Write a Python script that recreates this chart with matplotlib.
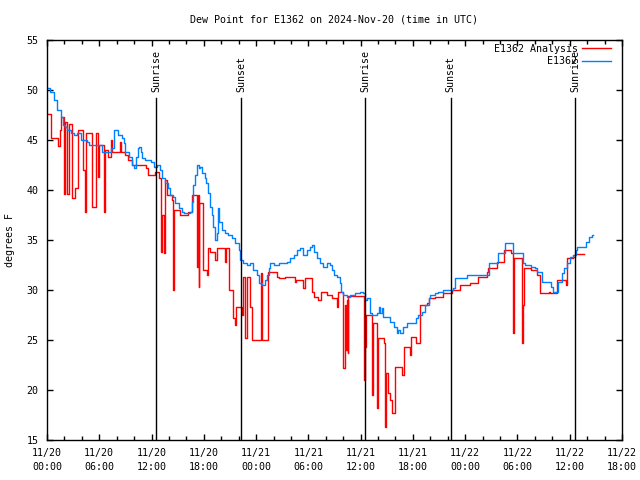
import matplotlib
matplotlib.use("Agg")
import matplotlib.pyplot as plt
from matplotlib.ticker import MultipleLocator, FixedLocator

plt.rcParams['font.family'] = ['DejaVu Sans Mono']

# hours since 2024-11-20 00:00 UTC
red_t = [0.0, 0.5, 1.3, 1.45, 1.65, 1.95, 2.05, 2.3, 2.55, 2.85, 3.25, 3.6, 4.1, 4.4, 4.5,
         5.2, 5.6, 5.8, 6.0, 6.55, 6.65, 7.0, 7.4, 7.5, 8.4, 8.5, 8.9, 9.3, 9.8, 11.4, 11.6,
         12.4, 12.9, 13.05, 13.2, 13.4, 13.55, 13.75, 14.35, 14.5, 14.6, 15.3, 16.2, 16.6,
         17.2, 17.3, 17.4, 17.45, 17.95, 18.35, 18.5, 18.7, 19.3, 19.5, 20.4, 20.6, 20.85,
         21.35, 21.55, 21.7, 22.4, 22.55, 22.75, 23.0, 23.25, 23.5, 24.6, 24.7, 25.4,
         26.4, 26.6, 27.3, 28.5, 28.6, 29.4, 29.6, 30.4, 30.6, 31.1, 31.5, 32.1, 32.7, 33.3,
         33.45, 34.0, 34.15, 34.3, 34.4, 34.5, 34.6, 36.35, 36.5, 36.65, 37.25, 37.4, 37.9,
         38.05, 38.65, 38.85, 38.95, 39.15, 39.35, 39.55, 39.95, 40.75, 40.95, 41.65, 41.8,
         42.4, 42.8, 43.6, 43.8, 44.5, 45.5, 46.5, 47.4, 48.6, 49.5, 50.5, 50.6, 51.6, 52.4,
         53.3, 53.5, 53.55, 54.5, 54.6, 54.7, 55.5, 56.2, 56.6, 57.6, 57.75, 58.5, 59.55,
         59.65, 60.4, 60.6, 61.6]
red_v = [47.6, 45.2, 44.4, 46.0, 47.3, 39.6, 46.8, 39.6, 46.6, 39.2, 40.2, 46.0, 42.0, 37.8, 45.7,
         38.3, 45.7, 41.3, 44.5, 37.8, 44.0, 43.3, 45.0, 43.8, 44.8, 43.8, 43.5, 43.0, 42.5, 42.2, 41.5,
         41.8, 41.2, 33.8, 37.5, 33.7, 41.0, 39.5, 39.0, 30.0, 38.0, 37.5, 37.8, 39.5,
         32.3, 39.5, 30.3, 38.7, 32.0, 31.5, 34.2, 33.8, 33.0, 34.2, 32.8, 34.2, 30.0,
         27.2, 26.5, 28.3, 27.5, 31.3, 25.2, 31.3, 28.3, 25.0, 31.7, 25.0, 31.8,
         31.3, 31.2, 31.3, 30.8, 31.0, 30.2, 31.2, 29.8, 29.3, 29.0, 29.8, 29.5, 29.2, 28.3,
         29.8, 22.2, 28.5, 24.0, 29.0, 23.7, 29.4, 21.0, 24.3, 27.5, 19.5, 26.7, 18.2,
         25.2, 24.7, 16.3, 21.7, 19.7, 19.0, 17.7, 22.3, 21.5, 24.3, 23.5, 25.3,
         24.7, 28.5, 28.7, 29.2, 29.3, 29.7, 30.0, 30.5, 30.7, 31.3, 31.8, 32.2, 32.8, 34.0,
         33.7, 25.7, 33.2, 24.7, 28.5, 32.2, 32.0, 31.5, 29.7, 29.8, 29.7, 31.0, 30.5,
         33.2, 33.3, 33.6, 33.6]

blue_t = [0.0, 0.4, 0.8, 1.2, 1.6, 1.8, 2.1, 2.3, 2.7, 3.1, 3.5, 3.9, 4.6, 4.8, 6.3, 7.3, 7.7,
          8.1, 8.6, 8.8, 9.0, 9.4, 9.8, 10.0, 10.2, 10.4, 10.6, 10.8, 10.9, 11.3, 11.9, 12.3,
          12.6, 13.0, 13.2, 13.5, 13.9, 14.1, 14.5, 14.7, 15.1, 15.5, 15.7, 16.4, 16.6, 16.8,
          17.0, 17.2, 17.4, 17.6, 17.8, 18.1, 18.3, 18.5, 18.7, 18.9, 19.1, 19.3, 19.55, 19.6,
          19.7, 20.1, 20.4, 20.8, 21.2, 21.6, 22.0, 22.2, 22.5, 22.9, 23.3, 23.7, 24.1, 24.3,
          24.7, 25.0, 25.3, 25.5, 25.6, 26.0, 26.6, 27.5, 27.9, 28.3, 28.7, 29.0, 29.4, 29.8,
          30.2, 30.4, 30.6, 31.0, 31.3, 31.7, 32.1, 32.5, 32.7, 32.9, 33.3, 33.6, 33.8, 34.0,
          34.4, 34.8, 35.4, 35.9, 36.3, 36.5, 36.7, 37.1, 37.3, 37.9, 38.1, 38.2, 38.4, 38.6,
          39.4, 39.8, 40.2, 40.3, 40.5, 40.9, 41.3, 42.3, 42.6, 43.0, 43.4, 43.8, 44.0, 44.5,
          44.9, 45.5, 46.6, 46.8, 48.2, 50.7, 51.8, 52.6, 53.5, 54.6, 54.9, 55.5, 56.0, 56.2,
          56.8, 57.8, 58.1, 58.7, 59.1, 59.3, 59.7, 60.0, 60.4, 60.7, 60.8, 61.9, 62.2, 62.5,
          62.7]
blue_v = [50.2, 49.8, 49.0, 48.0, 47.3, 46.5, 46.3, 46.0, 45.7, 45.5, 45.7, 45.0, 44.8, 44.5, 43.8, 44.2, 46.0,
          45.5, 45.2, 44.7, 43.8, 43.3, 42.5, 42.2, 43.3, 44.2, 44.3, 43.8, 43.2, 43.0, 42.8, 42.3,
          42.5, 42.0, 41.2, 40.7, 40.2, 39.5, 39.3, 38.7, 38.2, 37.8, 37.7, 37.8, 38.8, 40.5,
          41.5, 42.5, 42.2, 42.3, 41.7, 41.2, 40.7, 39.7, 38.3, 37.5, 36.3, 35.0, 35.7, 38.2,
          36.8, 36.0, 35.7, 35.5, 35.2, 34.7, 34.0, 33.0, 32.7, 32.5, 32.7, 32.0, 31.5, 30.7,
          30.5, 31.0, 31.5, 32.2, 32.7, 32.5, 32.7, 32.8, 33.2, 33.5, 34.0, 34.2, 33.5, 34.0,
          34.3, 34.5, 33.8, 33.2, 32.7, 32.3, 32.7, 32.5, 32.0, 31.5, 31.3, 30.7, 29.8, 29.5,
          29.3, 29.5, 29.7, 29.8, 29.7, 29.0, 29.2, 27.7, 27.5, 27.7, 28.3, 27.7, 28.2, 27.3,
          26.8, 26.3, 25.7, 26.0, 25.7, 26.3, 26.7, 27.2, 27.5, 27.8, 28.5, 29.2, 29.5, 29.7,
          29.8, 30.0, 30.2, 31.2, 31.5, 32.7, 33.7, 34.7, 33.7, 32.7, 32.5, 32.3, 32.2, 31.8,
          30.8, 30.3, 29.8, 30.8, 31.7, 32.2, 32.7, 33.3, 33.5, 34.0, 34.3, 34.8, 35.3, 35.5,
          35.5]

sun_t = [12.51, 22.27, 36.54, 46.34, 60.64]
sun_lbl = ["Sunrise", "Sunset", "Sunrise", "Sunset", "Sunrise"]

xtick_pos = [0, 6, 12, 18, 24, 30, 36, 42, 48, 54, 60, 66]
xtick_lbl = ["11/20\n00:00", "11/20\n06:00", "11/20\n12:00", "11/20\n18:00",
             "11/21\n00:00", "11/21\n06:00", "11/21\n12:00", "11/21\n18:00",
             "11/22\n00:00", "11/22\n06:00", "11/22\n12:00", "11/22\n18:00"]
ytick_pos = [15, 20, 25, 30, 35, 40, 45, 50, 55]

fs = 7.2
fig = plt.figure(figsize=(6.4, 4.8), dpi=100)
ax = fig.add_axes([47/640, 40/480, 575/640, 400/480])

ax.plot(red_t, red_v, color='#ff0000', lw=1.0, drawstyle='steps-post', label='E1362 Analysis')
ax.plot(blue_t, blue_v, color='#0080ff', lw=1.0, drawstyle='steps-post', label='E1362')

for t, lb in zip(sun_t, sun_lbl):
    ax.plot([t, t], [15, 49.2], color='black', lw=1.0)
    ax.text(t, 49.8, lb, rotation=90, ha='center', va='bottom', fontsize=fs)

ax.set_xlim(0, 66)
ax.set_ylim(15, 55)
ax.set_xticks(xtick_pos)
ax.set_xticklabels(xtick_lbl, fontsize=fs, linespacing=1.5)
ax.xaxis.set_minor_locator(MultipleLocator(2))
ax.set_yticks(ytick_pos)
ax.set_yticklabels([str(v) for v in ytick_pos], fontsize=fs)
ax.tick_params(which='both', direction='in', top=True, right=True, width=1.0, pad=6)
ax.tick_params(which='major', length=4.5)
ax.tick_params(which='minor', length=3)
for s in ax.spines.values():
    s.set_linewidth(1.0)

leg = ax.legend(loc='upper right', bbox_to_anchor=(0.98, 0.99), frameon=False,
                markerfirst=False, handlelength=2.9, handletextpad=0.4,
                labelspacing=0.25, fontsize=fs, borderaxespad=0, borderpad=0)

fig.text(334/640, 1 - 19/480, "Dew Point for E1362 on 2024-Nov-20 (time in UTC)",
         ha='center', va='center', fontsize=fs)
fig.text(10/640, 240/480, "degrees F", rotation=90, ha='center', va='center', fontsize=fs)

fig.savefig("out.png", dpi=100)
